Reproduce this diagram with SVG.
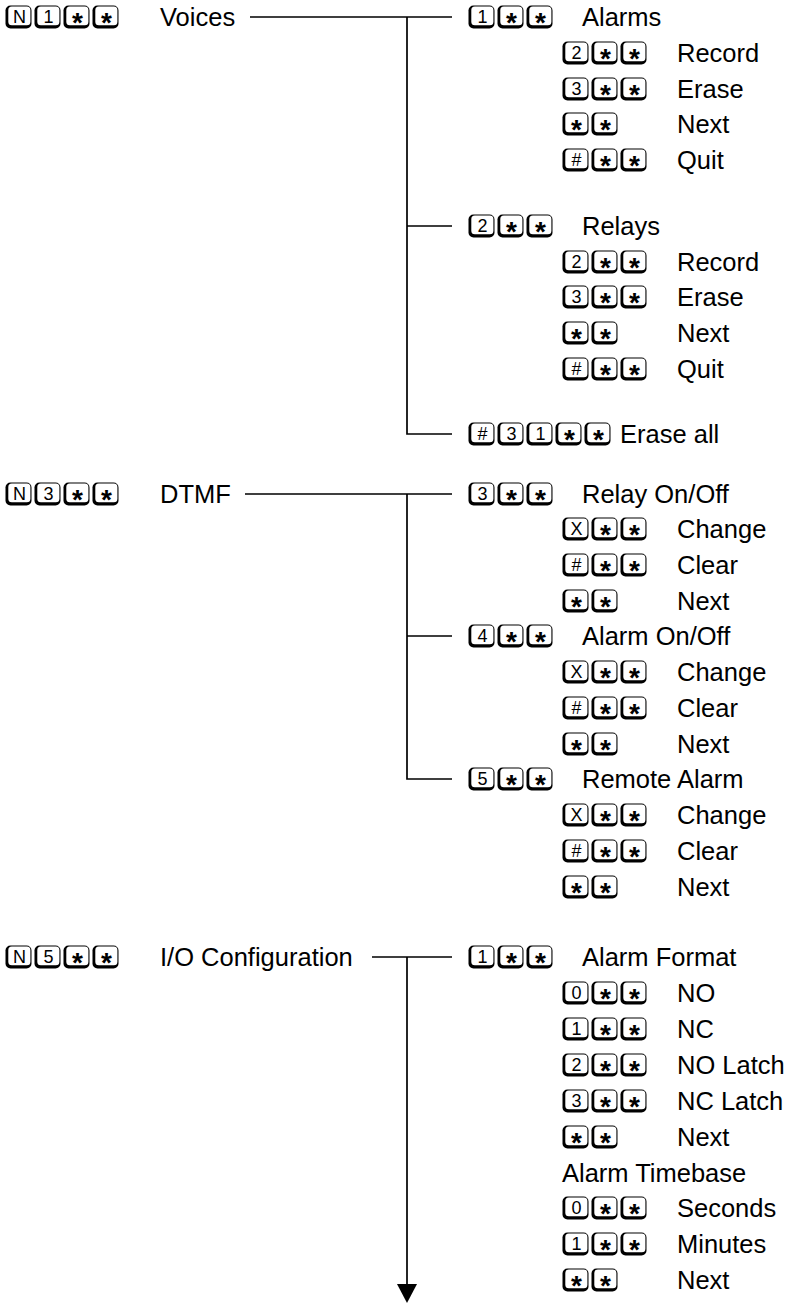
<svg xmlns="http://www.w3.org/2000/svg" width="794" height="1303" viewBox="0 0 794 1303">
<style>
text{font-family:"Liberation Sans",Arial,sans-serif;fill:#000}
.l{font-size:25.5px}
.k{font-size:18px;text-anchor:middle}
.s{font-size:28px;font-weight:bold;text-anchor:middle}
.c{stroke:#000;stroke-width:1.7;fill:none}
</style>
<defs>
<symbol id="key" width="27" height="24" viewBox="0 0 27 24" overflow="visible">
<rect x="0.5" y="0.5" width="26" height="23" rx="5" fill="#000"/>
<rect x="3.3" y="1.6" width="22.1" height="18.6" rx="3.5" fill="#fff"/>
</symbol>
</defs>
<rect width="794" height="1303" fill="#fff"/>
<g id="connectors">
<path class="c" d="M250,17 H452 M407,17 V434 H452 M407,226 H452"/>
<path class="c" d="M245,494 H452 M407,494 V779 H452 M407,636 H452"/>
<path class="c" d="M372,957 H452 M407,957 V1287"/>
<polygon points="397,1284 417,1284 407,1303" fill="#000"/>
</g>
<g id="n-voices"><use href="#key" x="5" y="5"/><use href="#key" x="34" y="5"/><use href="#key" x="63" y="5"/><use href="#key" x="92" y="5"/>
<text class="k" x="19.4" y="22.5">N</text><text class="k" x="48.4" y="22.5">1</text><text class="s" x="77.4" y="32">*</text><text class="s" x="106.4" y="32">*</text>
<text class="l" x="160" y="26">Voices</text></g>
<g id="n-alarms"><use href="#key" x="468" y="5"/><use href="#key" x="497" y="5"/><use href="#key" x="526" y="5"/>
<text class="k" x="482.4" y="22.5">1</text><text class="s" x="511.4" y="32">*</text><text class="s" x="540.4" y="32">*</text>
<text class="l" x="582" y="26">Alarms</text></g>
<g id="n-alarms-record"><use href="#key" x="562" y="41"/><use href="#key" x="591" y="41"/><use href="#key" x="620" y="41"/>
<text class="k" x="576.4" y="58.5">2</text><text class="s" x="605.4" y="68">*</text><text class="s" x="634.4" y="68">*</text>
<text class="l" x="677" y="62">Record</text></g>
<g id="n-alarms-erase"><use href="#key" x="562" y="77"/><use href="#key" x="591" y="77"/><use href="#key" x="620" y="77"/>
<text class="k" x="576.4" y="94.5">3</text><text class="s" x="605.4" y="104">*</text><text class="s" x="634.4" y="104">*</text>
<text class="l" x="677" y="98">Erase</text></g>
<g id="n-alarms-next"><use href="#key" x="562" y="112"/><use href="#key" x="591" y="112"/>
<text class="s" x="576.4" y="139">*</text><text class="s" x="605.4" y="139">*</text>
<text class="l" x="677" y="133">Next</text></g>
<g id="n-alarms-quit"><use href="#key" x="562" y="148"/><use href="#key" x="591" y="148"/><use href="#key" x="620" y="148"/>
<text class="k" x="576.4" y="165.5">#</text><text class="s" x="605.4" y="175">*</text><text class="s" x="634.4" y="175">*</text>
<text class="l" x="677" y="169">Quit</text></g>
<g id="n-relays"><use href="#key" x="468" y="214"/><use href="#key" x="497" y="214"/><use href="#key" x="526" y="214"/>
<text class="k" x="482.4" y="231.5">2</text><text class="s" x="511.4" y="241">*</text><text class="s" x="540.4" y="241">*</text>
<text class="l" x="582" y="235">Relays</text></g>
<g id="n-relays-record"><use href="#key" x="562" y="250"/><use href="#key" x="591" y="250"/><use href="#key" x="620" y="250"/>
<text class="k" x="576.4" y="267.5">2</text><text class="s" x="605.4" y="277">*</text><text class="s" x="634.4" y="277">*</text>
<text class="l" x="677" y="271">Record</text></g>
<g id="n-relays-erase"><use href="#key" x="562" y="285"/><use href="#key" x="591" y="285"/><use href="#key" x="620" y="285"/>
<text class="k" x="576.4" y="302.5">3</text><text class="s" x="605.4" y="312">*</text><text class="s" x="634.4" y="312">*</text>
<text class="l" x="677" y="306">Erase</text></g>
<g id="n-relays-next"><use href="#key" x="562" y="321"/><use href="#key" x="591" y="321"/>
<text class="s" x="576.4" y="348">*</text><text class="s" x="605.4" y="348">*</text>
<text class="l" x="677" y="342">Next</text></g>
<g id="n-relays-quit"><use href="#key" x="562" y="357"/><use href="#key" x="591" y="357"/><use href="#key" x="620" y="357"/>
<text class="k" x="576.4" y="374.5">#</text><text class="s" x="605.4" y="384">*</text><text class="s" x="634.4" y="384">*</text>
<text class="l" x="677" y="378">Quit</text></g>
<g id="n-erase-all"><use href="#key" x="468" y="422"/><use href="#key" x="497" y="422"/><use href="#key" x="526" y="422"/><use href="#key" x="555" y="422"/><use href="#key" x="584" y="422"/>
<text class="k" x="482.4" y="439.5">#</text><text class="k" x="511.4" y="439.5">3</text><text class="k" x="540.4" y="439.5">1</text><text class="s" x="569.4" y="449">*</text><text class="s" x="598.4" y="449">*</text>
<text class="l" x="620" y="443">Erase all</text></g>
<g id="n-dtmf"><use href="#key" x="5" y="482"/><use href="#key" x="34" y="482"/><use href="#key" x="63" y="482"/><use href="#key" x="92" y="482"/>
<text class="k" x="19.4" y="499.5">N</text><text class="k" x="48.4" y="499.5">3</text><text class="s" x="77.4" y="509">*</text><text class="s" x="106.4" y="509">*</text>
<text class="l" x="160" y="503">DTMF</text></g>
<g id="n-relay-onoff"><use href="#key" x="468" y="482"/><use href="#key" x="497" y="482"/><use href="#key" x="526" y="482"/>
<text class="k" x="482.4" y="499.5">3</text><text class="s" x="511.4" y="509">*</text><text class="s" x="540.4" y="509">*</text>
<text class="l" x="582" y="503">Relay On/Off</text></g>
<g id="n-r-change"><use href="#key" x="562" y="517"/><use href="#key" x="591" y="517"/><use href="#key" x="620" y="517"/>
<text class="k" x="576.4" y="534.5">X</text><text class="s" x="605.4" y="544">*</text><text class="s" x="634.4" y="544">*</text>
<text class="l" x="677" y="538">Change</text></g>
<g id="n-r-clear"><use href="#key" x="562" y="553"/><use href="#key" x="591" y="553"/><use href="#key" x="620" y="553"/>
<text class="k" x="576.4" y="570.5">#</text><text class="s" x="605.4" y="580">*</text><text class="s" x="634.4" y="580">*</text>
<text class="l" x="677" y="574">Clear</text></g>
<g id="n-r-next"><use href="#key" x="562" y="589"/><use href="#key" x="591" y="589"/>
<text class="s" x="576.4" y="616">*</text><text class="s" x="605.4" y="616">*</text>
<text class="l" x="677" y="610">Next</text></g>
<g id="n-alarm-onoff"><use href="#key" x="468" y="624"/><use href="#key" x="497" y="624"/><use href="#key" x="526" y="624"/>
<text class="k" x="482.4" y="641.5">4</text><text class="s" x="511.4" y="651">*</text><text class="s" x="540.4" y="651">*</text>
<text class="l" x="582" y="645">Alarm On/Off</text></g>
<g id="n-a-change"><use href="#key" x="562" y="660"/><use href="#key" x="591" y="660"/><use href="#key" x="620" y="660"/>
<text class="k" x="576.4" y="677.5">X</text><text class="s" x="605.4" y="687">*</text><text class="s" x="634.4" y="687">*</text>
<text class="l" x="677" y="681">Change</text></g>
<g id="n-a-clear"><use href="#key" x="562" y="696"/><use href="#key" x="591" y="696"/><use href="#key" x="620" y="696"/>
<text class="k" x="576.4" y="713.5">#</text><text class="s" x="605.4" y="723">*</text><text class="s" x="634.4" y="723">*</text>
<text class="l" x="677" y="717">Clear</text></g>
<g id="n-a-next"><use href="#key" x="562" y="732"/><use href="#key" x="591" y="732"/>
<text class="s" x="576.4" y="759">*</text><text class="s" x="605.4" y="759">*</text>
<text class="l" x="677" y="753">Next</text></g>
<g id="n-remote-alarm"><use href="#key" x="468" y="767"/><use href="#key" x="497" y="767"/><use href="#key" x="526" y="767"/>
<text class="k" x="482.4" y="784.5">5</text><text class="s" x="511.4" y="794">*</text><text class="s" x="540.4" y="794">*</text>
<text class="l" x="582" y="788">Remote Alarm</text></g>
<g id="n-ra-change"><use href="#key" x="562" y="803"/><use href="#key" x="591" y="803"/><use href="#key" x="620" y="803"/>
<text class="k" x="576.4" y="820.5">X</text><text class="s" x="605.4" y="830">*</text><text class="s" x="634.4" y="830">*</text>
<text class="l" x="677" y="824">Change</text></g>
<g id="n-ra-clear"><use href="#key" x="562" y="839"/><use href="#key" x="591" y="839"/><use href="#key" x="620" y="839"/>
<text class="k" x="576.4" y="856.5">#</text><text class="s" x="605.4" y="866">*</text><text class="s" x="634.4" y="866">*</text>
<text class="l" x="677" y="860">Clear</text></g>
<g id="n-ra-next"><use href="#key" x="562" y="875"/><use href="#key" x="591" y="875"/>
<text class="s" x="576.4" y="902">*</text><text class="s" x="605.4" y="902">*</text>
<text class="l" x="677" y="896">Next</text></g>
<g id="n-io"><use href="#key" x="5" y="945"/><use href="#key" x="34" y="945"/><use href="#key" x="63" y="945"/><use href="#key" x="92" y="945"/>
<text class="k" x="19.4" y="962.5">N</text><text class="k" x="48.4" y="962.5">5</text><text class="s" x="77.4" y="972">*</text><text class="s" x="106.4" y="972">*</text>
<text class="l" x="160" y="966">I/O Configuration</text></g>
<g id="n-alarm-format"><use href="#key" x="468" y="945"/><use href="#key" x="497" y="945"/><use href="#key" x="526" y="945"/>
<text class="k" x="482.4" y="962.5">1</text><text class="s" x="511.4" y="972">*</text><text class="s" x="540.4" y="972">*</text>
<text class="l" x="582" y="966">Alarm Format</text></g>
<g id="n-no"><use href="#key" x="562" y="981"/><use href="#key" x="591" y="981"/><use href="#key" x="620" y="981"/>
<text class="k" x="576.4" y="998.5">0</text><text class="s" x="605.4" y="1008">*</text><text class="s" x="634.4" y="1008">*</text>
<text class="l" x="677" y="1002">NO</text></g>
<g id="n-nc"><use href="#key" x="562" y="1017"/><use href="#key" x="591" y="1017"/><use href="#key" x="620" y="1017"/>
<text class="k" x="576.4" y="1034.5">1</text><text class="s" x="605.4" y="1044">*</text><text class="s" x="634.4" y="1044">*</text>
<text class="l" x="677" y="1038">NC</text></g>
<g id="n-no-latch"><use href="#key" x="562" y="1053"/><use href="#key" x="591" y="1053"/><use href="#key" x="620" y="1053"/>
<text class="k" x="576.4" y="1070.5">2</text><text class="s" x="605.4" y="1080">*</text><text class="s" x="634.4" y="1080">*</text>
<text class="l" x="677" y="1074">NO Latch</text></g>
<g id="n-nc-latch"><use href="#key" x="562" y="1089"/><use href="#key" x="591" y="1089"/><use href="#key" x="620" y="1089"/>
<text class="k" x="576.4" y="1106.5">3</text><text class="s" x="605.4" y="1116">*</text><text class="s" x="634.4" y="1116">*</text>
<text class="l" x="677" y="1110">NC Latch</text></g>
<g id="n-f-next"><use href="#key" x="562" y="1125"/><use href="#key" x="591" y="1125"/>
<text class="s" x="576.4" y="1152">*</text><text class="s" x="605.4" y="1152">*</text>
<text class="l" x="677" y="1146">Next</text></g>
<g id="n-timebase"><text class="l" x="562" y="1182">Alarm Timebase</text></g>
<g id="n-seconds"><use href="#key" x="562" y="1196"/><use href="#key" x="591" y="1196"/><use href="#key" x="620" y="1196"/>
<text class="k" x="576.4" y="1213.5">0</text><text class="s" x="605.4" y="1223">*</text><text class="s" x="634.4" y="1223">*</text>
<text class="l" x="677" y="1217">Seconds</text></g>
<g id="n-minutes"><use href="#key" x="562" y="1232"/><use href="#key" x="591" y="1232"/><use href="#key" x="620" y="1232"/>
<text class="k" x="576.4" y="1249.5">1</text><text class="s" x="605.4" y="1259">*</text><text class="s" x="634.4" y="1259">*</text>
<text class="l" x="677" y="1253">Minutes</text></g>
<g id="n-t-next"><use href="#key" x="562" y="1268"/><use href="#key" x="591" y="1268"/>
<text class="s" x="576.4" y="1295">*</text><text class="s" x="605.4" y="1295">*</text>
<text class="l" x="677" y="1289">Next</text></g>
</svg>
